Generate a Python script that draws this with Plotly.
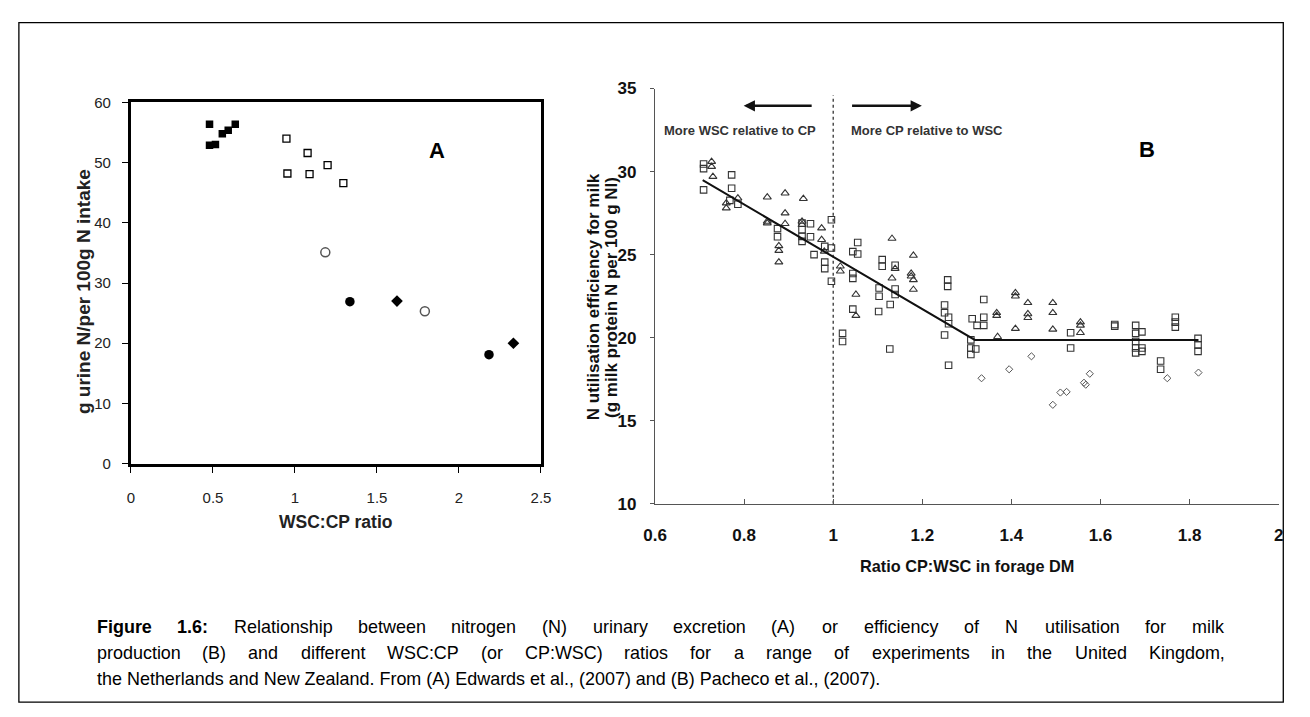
import plotly.graph_objects as go

W, H = 1310, 717

# ---------------- Panel A data ----------------
a_fsq_x = [0.479, 0.479, 0.515, 0.557, 0.593, 0.636]
a_fsq_y = [56.4, 52.9, 53.0, 54.8, 55.4, 56.4]
a_osq_x = [0.948, 0.954, 1.077, 1.089, 1.199, 1.295]
a_osq_y = [54.0, 48.2, 51.6, 48.1, 49.6, 46.6]
a_ocirc_x = [1.185, 1.792]
a_ocirc_y = [35.1, 25.3]
a_fcirc_x = [1.335, 2.183]
a_fcirc_y = [26.9, 18.1]
a_dia_x = [1.622, 2.332]
a_dia_y = [27.0, 20.0]
a_xticks = [0, 0.5, 1, 1.5, 2, 2.5]
a_xticklabels = ["0", "0.5", "1", "1.5", "2", "2.5"]
a_yticks = [0, 10, 20, 30, 40, 50, 60]

# ---------------- Panel B data ----------------
b_sq_x = [0.709, 0.709, 0.709, 0.772, 0.772, 0.768, 0.786, 0.875, 0.875,
          0.93, 0.93, 0.93, 0.93, 0.949, 0.949, 0.957, 0.981, 0.981, 0.981,
          0.996, 0.996, 0.996,
          1.055, 1.044, 1.055, 1.11, 1.11, 1.139, 1.257, 1.257, 1.338,
          1.044, 1.044, 1.103, 1.103, 1.139, 1.139, 1.044, 1.102, 1.128,
          1.25, 1.25, 1.259, 1.259, 1.25, 1.127, 1.021, 1.021, 1.259,
          1.309, 1.309, 1.309, 1.32, 1.312, 1.323, 1.338, 1.338,
          1.533, 1.533, 1.632, 1.632, 1.679, 1.679, 1.679, 1.679, 1.679,
          1.693, 1.693, 1.693, 1.735, 1.735, 1.768, 1.768, 1.768,
          1.819, 1.819, 1.819]
b_sq_y = [30.46, 30.18, 28.9, 29.8, 29.0, 28.27, 28.03, 26.57, 26.08,
          26.9, 26.5, 26.1, 25.8, 26.86, 26.08, 25.0, 25.5, 24.55, 24.16,
          27.1, 25.4, 23.4,
          25.73, 25.18, 25.04, 24.7, 24.3, 24.36, 23.48, 23.09, 22.3,
          23.87, 23.57, 22.99, 22.5, 22.93, 22.6, 21.72, 21.58, 22.0,
          21.97, 21.5, 21.23, 20.84, 20.16, 19.32, 20.26, 19.77, 18.34,
          19.87, 19.38, 18.99, 19.32, 21.14, 20.74, 21.23, 20.74,
          20.3, 19.38, 20.8, 20.7, 20.74, 20.26, 19.77, 19.38, 19.09,
          20.35, 19.38, 19.18, 18.6, 18.1, 21.23, 20.94, 20.64,
          19.96, 19.57, 19.18]

b_tri_x = [0.727, 0.727, 0.73, 0.76, 0.76, 0.786, 0.852, 0.852, 0.852,
           0.892, 0.892, 0.892, 0.933, 0.93, 0.93, 0.974, 0.974, 0.878,
           0.878, 0.878, 0.98, 1.016, 1.016,
           1.132, 1.139, 1.18, 1.175, 1.175, 1.18, 1.132, 1.18, 1.051,
           1.051, 1.367, 1.367, 1.369, 1.409, 1.409, 1.409, 1.437, 1.437,
           1.437, 1.493, 1.493, 1.493, 1.555, 1.555, 1.555]
b_tri_y = [30.6, 30.3, 29.7, 28.1, 27.8, 28.4, 28.46, 26.9, 27.0,
           28.7, 27.5, 26.86, 28.37, 27.0, 26.8, 26.6, 25.9, 25.53,
           25.24, 24.55, 25.2, 24.3, 24.0,
           25.97, 24.16, 24.95, 23.87, 23.7, 23.48, 23.58, 22.9, 22.6,
           21.33, 21.33, 21.5, 20.06, 22.7, 22.5, 20.55, 22.1, 21.43,
           21.2, 22.1, 21.5, 20.5, 20.94, 20.74, 20.3]

b_dia_x = [1.333, 1.395, 1.445, 1.493, 1.51, 1.524, 1.563, 1.567, 1.576,
           1.75, 1.82]
b_dia_y = [17.56, 18.1, 18.88, 15.96, 16.7, 16.74, 17.29, 17.17, 17.83,
           17.56, 17.9]

b_fit_x = [0.707, 1.318, 1.82]
b_fit_y = [29.48, 19.87, 19.87]

b_xticks = [0.6, 0.8, 1.0, 1.2, 1.4, 1.6, 1.8, 2.0]
b_xticklabels = ["0.6", "0.8", "1", "1.2", "1.4", "1.6", "1.8", "2"]
b_yticks = [10, 15, 20, 25, 30, 35]

caption_lines = [
    "Figure 1.6: Relationship between nitrogen (N) urinary excretion (A) or efficiency of N utilisation for milk",
    "production (B) and different WSC:CP (or CP:WSC) ratios for a range of experiments in the United Kingdom,",
    "the Netherlands and New Zealand. From (A) Edwards et al., (2007) and (B) Pacheco et al., (2007).",
]
caption_bold_words = 2  # "Figure 1.6:" is bold

# ---------------- helpers ----------------
def px_x(p):
    return p / W

def px_y(p):
    return 1 - p / H

# Arial / Liberation Sans advance widths (per 1000 em), used to justify caption text
_REG = {' ': 278, '(': 333, ')': 333, ',': 278, '.': 278, ':': 278, '/': 278}
_REG.update({d: 556 for d in '0123456789'})
_REG.update(dict(zip('ABCDEFGHIJKLMNOPQRSTUVWXYZ',
                     [667, 667, 722, 722, 667, 611, 778, 722, 278, 500, 667, 556, 833,
                      722, 778, 667, 778, 722, 667, 611, 722, 667, 944, 667, 667, 611])))
_REG.update(dict(zip('abcdefghijklmnopqrstuvwxyz',
                     [556, 556, 500, 556, 556, 278, 556, 556, 222, 222, 500, 222, 833,
                      556, 556, 556, 556, 333, 500, 278, 556, 500, 722, 500, 500, 500])))
_BOLD = dict(_REG)
_BOLD.update({'F': 611, 'i': 278, 'g': 611, 'u': 611, 'r': 389, 'e': 556, ':': 333})


def text_w(s, bold=False):
    t = _BOLD if bold else _REG
    return sum(t.get(c, 556) for c in s) / 1000.0


ARIAL = "Liberation Sans, Arial, sans-serif"


def paper_text(x, y, text, size, color="#111", angle=0, xanchor="center"):
    return dict(x=px_x(x), y=px_y(y), xref="paper", yref="paper", text=text,
                textangle=angle, showarrow=False, xanchor=xanchor, yanchor="middle",
                font=dict(family=ARIAL, size=size, color=color))


fig = go.Figure()

# Panel A traces
fig.add_trace(go.Scatter(x=a_fsq_x, y=a_fsq_y, mode="markers", xaxis="x", yaxis="y",
                         marker=dict(symbol="square", size=7.5, color="black")))
fig.add_trace(go.Scatter(x=a_osq_x, y=a_osq_y, mode="markers", xaxis="x", yaxis="y",
                         marker=dict(symbol="square-open", size=7, color="black",
                                     line=dict(width=1.3, color="black"))))
fig.add_trace(go.Scatter(x=a_ocirc_x, y=a_ocirc_y, mode="markers", xaxis="x", yaxis="y",
                         marker=dict(symbol="circle-open", size=9, color="#555",
                                     line=dict(width=1.5, color="#555"))))
fig.add_trace(go.Scatter(x=a_fcirc_x, y=a_fcirc_y, mode="markers", xaxis="x", yaxis="y",
                         marker=dict(symbol="circle", size=9.5, color="black")))
fig.add_trace(go.Scatter(x=a_dia_x, y=a_dia_y, mode="markers", xaxis="x", yaxis="y",
                         marker=dict(symbol="diamond", size=9, color="black")))

# Panel B traces
fig.add_trace(go.Scatter(x=[1, 1], y=[10, 34.6], mode="lines", xaxis="x2", yaxis="y2",
                         line=dict(color="#333", width=1.3, dash="dot")))
fig.add_trace(go.Scatter(x=b_sq_x, y=b_sq_y, mode="markers", xaxis="x2", yaxis="y2",
                         marker=dict(symbol="square-open", size=6.5, color="#333",
                                     line=dict(width=1.1, color="#333"))))
fig.add_trace(go.Scatter(x=b_tri_x, y=b_tri_y, mode="markers", xaxis="x2", yaxis="y2",
                         marker=dict(symbol="triangle-up-open", size=7, color="#333",
                                     line=dict(width=1.1, color="#333"))))
fig.add_trace(go.Scatter(x=b_dia_x, y=b_dia_y, mode="markers", xaxis="x2", yaxis="y2",
                         marker=dict(symbol="diamond-open", size=5.5, color="#555",
                                     line=dict(width=1, color="#555"))))
fig.add_trace(go.Scatter(x=b_fit_x, y=b_fit_y, mode="lines", xaxis="x2", yaxis="y2",
                         line=dict(color="#111", width=2)))

annotations = []

# Panel A texts
annotations.append(dict(x=1.868, y=52.0, xref="x", yref="y", text="<b>A</b>",
                        showarrow=False, xanchor="center", yanchor="middle",
                        font=dict(family=ARIAL, size=22, color="black")))
annotations.append(paper_text(73, 290, "<b>g urine N/per 100g N intake</b>", 19,
                              color="#222", angle=-90))
annotations.append(paper_text(329, 527, "<b>WSC:CP ratio</b>", 17.5, color="#222"))

# Panel B texts
annotations.append(dict(x=0.615, y=32.47, xref="x2", yref="y2", xanchor="left",
                        yanchor="middle", text="<b>More WSC relative to CP</b>",
                        showarrow=False, font=dict(family=ARIAL, size=13, color="#333")))
annotations.append(dict(x=1.035, y=32.47, xref="x2", yref="y2", xanchor="left",
                        yanchor="middle", text="<b>More CP relative to WSC</b>",
                        showarrow=False, font=dict(family=ARIAL, size=13, color="#333")))
annotations.append(dict(x=0.799, y=33.96, ax=0.955, ay=33.96, xref="x2", yref="y2",
                        axref="x2", ayref="y2", text="", showarrow=True,
                        arrowhead=2, arrowsize=0.9, arrowwidth=2.5, arrowcolor="#111"))
annotations.append(dict(x=1.199, y=33.96, ax=1.039, ay=33.96, xref="x2", yref="y2",
                        axref="x2", ayref="y2", text="", showarrow=True,
                        arrowhead=2, arrowsize=0.9, arrowwidth=2.5, arrowcolor="#111"))
annotations.append(dict(x=1.704, y=31.3, xref="x2", yref="y2", text="<b>B</b>",
                        showarrow=False, xanchor="center", yanchor="middle",
                        font=dict(family=ARIAL, size=22, color="black")))
annotations.append(paper_text(591, 296, "<b>N utilisation efficiency for milk</b>", 17,
                              angle=-90))
annotations.append(paper_text(609, 296, "<b>(g milk protein N per 100 g NI)</b>", 17,
                              angle=-90))
annotations.append(paper_text(971, 572, "<b>Ratio CP:WSC in forage DM</b>", 16.3))

# Caption (lines 1-2 justified like the source, line 3 left aligned)
CAP_LEFT, CAP_RIGHT = 84, 1230
cap_size = 784 / text_w(caption_lines[2])
cap_y = [635, 661.5, 688]
for li, line in enumerate(caption_lines):
    if li == 2:
        annotations.append(paper_text(CAP_LEFT, cap_y[li], line, cap_size,
                                      color="black", xanchor="left"))
        continue
    words = line.split(" ")
    bold_flags = [(li == 0 and wi < caption_bold_words) for wi in range(len(words))]
    widths = [text_w(w, b) * cap_size for w, b in zip(words, bold_flags)]
    gap = (CAP_RIGHT - CAP_LEFT - sum(widths)) / (len(words) - 1)
    xpos = CAP_LEFT
    for w, b, wd in zip(words, bold_flags, widths):
        annotations.append(paper_text(xpos, cap_y[li], f"<b>{w}</b>" if b else w,
                                      cap_size, color="black", xanchor="left"))
        xpos += wd + gap

shapes = [dict(type="rect", xref="paper", yref="paper",
               x0=px_x(7), x1=px_x(1293), y0=px_y(712), y1=px_y(14),
               line=dict(color="black", width=1.3))]

fig.update_layout(
    width=W, height=H, margin=dict(l=0, r=0, t=0, b=0),
    paper_bgcolor="white", plot_bgcolor="white", showlegend=False,
    annotations=annotations, shapes=shapes,
    xaxis=dict(domain=[px_x(121), px_x(538)], range=[0, 2.5], anchor="y",
               tickvals=a_xticks, ticktext=a_xticklabels, ticks="outside", ticklen=6,
               tickwidth=1, tickcolor="black", showline=True, linewidth=3,
               linecolor="black", mirror=True, showgrid=False, zeroline=False,
               ticklabelstandoff=12,
               tickfont=dict(family=ARIAL, size=15, color="#222")),
    yaxis=dict(domain=[px_y(467), px_y(96)], range=[0, 60], anchor="x",
               tickvals=a_yticks, ticks="outside", ticklen=6, tickwidth=1,
               tickcolor="black", showline=True, linewidth=3, linecolor="black",
               mirror=True, showgrid=False, zeroline=False, ticklabelstandoff=8,
               tickfont=dict(family=ARIAL, size=15, color="#222")),
    xaxis2=dict(domain=[px_x(654), px_x(1288.3)], range=[0.6, 2.0], anchor="y2",
                tickvals=b_xticks, ticktext=b_xticklabels, ticks="inside", ticklen=5,
                tickwidth=1, tickcolor="#555", showline=True, linewidth=1.3,
                linecolor="#555", showgrid=False, zeroline=False, ticklabelstandoff=16,
                tickfont=dict(family=ARIAL, size=17, color="#111", weight="bold")),
    yaxis2=dict(domain=[px_y(508.3), px_y(81.7)], range=[10, 35], anchor="x2",
                tickvals=b_yticks, ticks="outside", ticklen=4, tickwidth=1,
                tickcolor="#555", showline=True, linewidth=1.3, linecolor="#555",
                showgrid=False, zeroline=False, ticklabelstandoff=10,
                tickfont=dict(family=ARIAL, size=17, color="#111", weight="bold")),
)

fig.write_html("out.html", config={"displayModeBar": False},
               post_script="document.body.style.margin='0';document.body.style.padding='0';")
